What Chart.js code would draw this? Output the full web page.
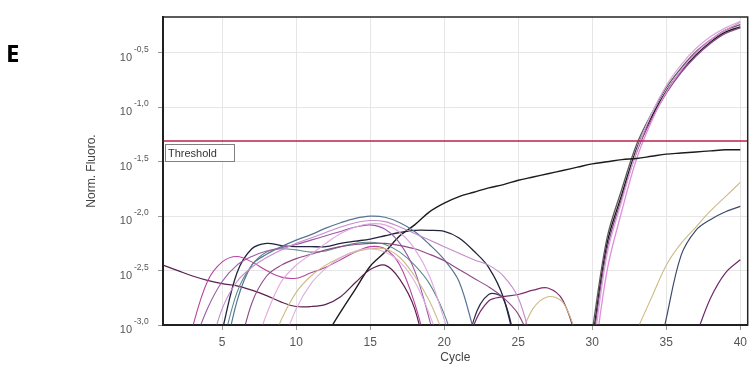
<!DOCTYPE html>
<html>
<head>
<meta charset="utf-8">
<script src="https://cdn.jsdelivr.net/npm/chart.js@4/dist/chart.umd.min.js"></script>
<style>
  html, body { margin: 0; padding: 0; background: #fff; }
  #chart { display: block; }
</style>
</head>
<body>
<canvas id="chart" width="752" height="367"></canvas>
<script>
'use strict';

// qPCR amplification plot, y values are log10(Norm. Fluoro.)

const cycles = [1,2,3,4,5,6,7,8,9,10,11,12,13,14,15,16,17,18,19,20,
                21,22,23,24,25,26,27,28,29,30,31,32,33,34,35,36,37,38,39,40];
const xTicks = [5, 10, 15, 20, 25, 30, 35, 40];
const yTicks = [-3.0, -2.5, -2.0, -1.5, -1.0, -0.5];
const yTickText = ['-3,0', '-2,5', '-2,0', '-1,5', '-1,0', '-0,5'];
const thresholdLog = -1.31;

function gap(n) { return new Array(n).fill(null); }

// amplified samples
const ampBlack  = [...gap(29), -3.15, -2.25, -1.80, -1.38, -1.09, -0.85, -0.67, -0.52, -0.40, -0.31, -0.26];
const ampGrey   = [...gap(29), -3.05, -2.20, -1.75, -1.34, -1.06, -0.82, -0.64, -0.49, -0.38, -0.29, -0.24];
const ampPurple = [...gap(29), -3.20, -2.30, -1.83, -1.41, -1.11, -0.87, -0.68, -0.53, -0.41, -0.32, -0.27];
const ampPink   = [...gap(29), -3.45, -2.50, -1.95, -1.47, -1.13, -0.86, -0.66, -0.50, -0.38, -0.29, -0.22];
const ampLilac  = [...gap(29), -3.30, -2.35, -1.86, -1.40, -1.06, -0.80, -0.61, -0.46, -0.35, -0.27, -0.21];

// slow drifting black curve
const slowBlack = [...gap(11), -3.10, -2.88, -2.67, -2.46, -2.33, -2.18, -2.08, -1.96, -1.88, -1.82,
  -1.78, -1.74, -1.71, -1.67, -1.64, -1.61, -1.58, -1.55, -1.52, -1.50,
  -1.48, -1.47, -1.45, -1.43, -1.42, -1.41, -1.40, -1.39, -1.39];

// late rising curves
const lateTan    = [...gap(32), -3.05, -2.75, -2.45, -2.25, -2.10, -1.95, -1.82, -1.69];
const lateNavy   = [...gap(33), -3.60, -2.94, -2.36, -2.13, -2.03, -1.96, -1.91];
const latePurple = [...gap(36), -3.10, -2.75, -2.52, -2.40];

// small bumps near cycle 25
const bumpPlum = [...gap(20), -3.50, -3.00, -2.78, -2.74, -2.72, -2.68, -2.66, -2.77, -3.15];
const bumpTan  = [...gap(24), -3.15, -2.85, -2.74, -2.79, -3.10];
const bumpNavy = [...gap(20), -3.60, -2.95, -2.72, -2.76, -3.30];

// background noise curves, cycles 1-26
const lowPurple = [-2.45, -2.50, -2.55, -2.59, -2.62, -2.64, -2.68, -2.73, -2.79, -2.83,
  -2.83, -2.81, -2.74, -2.61, -2.49, -2.45, -2.58, -2.85, -3.40];
const flatNavy = [...gap(3), -3.60, -3.05, -2.52, -2.30, -2.25, -2.27, -2.28, -2.28, -2.28, -2.25,
  -2.23, -2.21, -2.18, -2.15, -2.13, -2.13, -2.14, -2.20, -2.32, -2.47, -2.75, -3.30];
const steelBlue = [...gap(4), -3.40, -2.78, -2.45, -2.35, -2.28, -2.22, -2.17, -2.11, -2.06, -2.02,
  -2.00, -2.01, -2.06, -2.14, -2.26, -2.40, -2.60, -3.05];
const magentaWave = [...gap(1), -3.60, -3.02, -2.60, -2.42, -2.37, -2.42, -2.50, -2.56, -2.57, -2.52,
  -2.47, -2.40, -2.33, -2.28, -2.30, -2.45, -2.80, -3.30];
const violet = [...gap(2), -3.20, -2.85, -2.60, -2.45, -2.37, -2.32, -2.29, -2.26, -2.22, -2.18,
  -2.14, -2.10, -2.08, -2.12, -2.25, -2.50, -2.95, -3.50];
const lilacLong = [...gap(3), -3.30, -2.85, -2.60, -2.47, -2.38, -2.31, -2.25, -2.20, -2.15, -2.10,
  -2.06, -2.04, -2.05, -2.10, -2.16, -2.22, -2.28, -2.34, -2.40, -2.45, -2.55, -2.75, -3.20];
const plumSlow = [...gap(5), -3.30, -2.80, -2.55, -2.45, -2.39, -2.35, -2.31, -2.28, -2.26, -2.25,
  -2.25, -2.27, -2.30, -2.35, -2.41, -2.49, -2.57, -2.65, -2.75, -2.90, -3.20];
const lightPink = [...gap(6), -3.30, -2.90, -2.60, -2.45, -2.35, -2.25, -2.16, -2.10, -2.07, -2.08,
  -2.15, -2.30, -2.55, -2.95, -3.40];
const lightPink2 = [...gap(8), -3.20, -2.85, -2.62, -2.48, -2.38, -2.32, -2.30, -2.33, -2.42, -2.60,
  -2.90, -3.30];
const tanLeft = [...gap(7), -3.30, -2.95, -2.70, -2.55, -2.45, -2.38, -2.33, -2.30, -2.30, -2.38,
  -2.55, -2.78, -3.10];
const tealGrey = [...gap(4), -3.20, -2.70, -2.45, -2.33, -2.30, -2.31, -2.33, -2.32, -2.28, -2.25,
  -2.24, -2.26, -2.33, -2.45, -2.62, -2.90, -3.30];

const curves = [
  [lightPink, '#e2a6e0', 1.1], [lightPink2, '#dcb0dc', 1.1], [tanLeft, '#cdbb86', 1.1],
  [lilacLong, '#c68ccc', 1.1], [plumSlow, '#8e4a88', 1.1], [violet, '#9a5aa8', 1.1],
  [magentaWave, '#b8449e', 1.1], [tealGrey, '#5f8a8c', 1.1], [steelBlue, '#557595', 1.2],
  [flatNavy, '#22243e', 1.3], [lowPurple, '#5c2050', 1.2],
  [bumpTan, '#cdbb86', 1.1], [bumpPlum, '#7e2c6c', 1.2], [bumpNavy, '#2c2c4c', 1.2],
  [lateTan, '#cdbb86', 1.1], [lateNavy, '#3c4a6a', 1.2], [latePurple, '#6c2a6a', 1.2],
  [slowBlack, '#1c1c1c', 1.4],
  [ampLilac, '#dba8dc', 1.3], [ampPink, '#e08ede', 1.3], [ampPurple, '#8a4a8a', 1.3],
  [ampGrey, '#5a5a5a', 1.3], [ampBlack, '#151515', 1.4]
];

const datasets = curves.map(function (c) {
  return {
    data: cycles.map(function (x, i) { return { x: x, y: c[0][i] }; })
                .filter(function (p) { return p.y !== null && p.y !== undefined; }),
    borderColor: c[1],
    borderWidth: c[2],
    fill: false
  };
});

const FONT = "'Liberation Sans', Arial, sans-serif";

const decorations = {
  id: 'decorations',
  afterDatasetsDraw: function (chart) {
    const ctx = chart.ctx;
    const a = chart.chartArea;
    const y = chart.scales.y;
    const ty = Math.round(y.getPixelForValue(thresholdLog));

    ctx.save();
    // threshold line
    ctx.strokeStyle = '#b8204a';
    ctx.lineWidth = 1.5;
    ctx.beginPath();
    ctx.moveTo(a.left, ty);
    ctx.lineTo(a.right, ty);
    ctx.stroke();

    // threshold label
    ctx.fillStyle = '#fff';
    ctx.fillRect(a.left + 2.5, ty + 3.5, 69, 17);
    ctx.strokeStyle = '#808080';
    ctx.lineWidth = 1;
    ctx.strokeRect(a.left + 2.5, ty + 3.5, 69, 17);
    ctx.fillStyle = '#333';
    ctx.font = '11px ' + FONT;
    ctx.textBaseline = 'middle';
    ctx.textAlign = 'left';
    ctx.fillText('Threshold', a.left + 5, ty + 12.5);

    // frame
    ctx.strokeStyle = '#262626';
    ctx.lineWidth = 1.5;
    ctx.strokeRect(a.left, a.top, a.right - a.left, a.bottom - a.top);
    ctx.restore();
  },
  afterDraw: function (chart) {
    const ctx = chart.ctx;
    const y = chart.scales.y;
    ctx.save();
    ctx.textBaseline = 'alphabetic';
    yTicks.forEach(function (v, i) {
      const py = y.getPixelForValue(v);
      ctx.fillStyle = '#555';
      ctx.font = '11px ' + FONT;
      ctx.textAlign = 'right';
      ctx.fillText('10', 132, py + 8);
      ctx.font = '8.5px ' + FONT;
      ctx.textAlign = 'left';
      ctx.fillText(yTickText[i], 134, py - 1);
    });

    ctx.fillStyle = '#000';
    ctx.font = "bold 24px 'Open Sans', " + FONT;
    ctx.textAlign = 'left';
    ctx.fillText('E', 6, 62);
    ctx.restore();
  }
};

new Chart(document.getElementById('chart'), {
  type: 'line',
  data: { datasets: datasets },
  plugins: [decorations],
  options: {
    responsive: false,
    animation: false,
    devicePixelRatio: 1,
    layout: { padding: { top: 17, right: 2, left: 0, bottom: 0 } },
    elements: {
      point: { radius: 0 },
      line: { tension: 0.35 }
    },
    plugins: { legend: { display: false }, tooltip: { enabled: false } },
    scales: {
      x: {
        type: 'linear',
        min: 1,
        max: 40.5,
        afterBuildTicks: function (s) { s.ticks = xTicks.map(function (v) { return { value: v }; }); },
        afterFit: function (s) { s.height = 42; },
        ticks: { color: '#555', font: { family: FONT, size: 12 }, padding: 5, maxRotation: 0, autoSkip: false },
        grid: { color: '#e6e6e6', tickLength: 5, tickColor: '#999' },
        border: { color: '#111', width: 2 },
        title: { display: true, text: 'Cycle', color: '#444', font: { family: FONT, size: 12 }, padding: { top: 0, bottom: 2 } }
      },
      y: {
        type: 'linear',
        min: -3,
        max: -0.17,
        afterBuildTicks: function (s) { s.ticks = yTicks.map(function (v) { return { value: v }; }); },
        afterFit: function (s) { s.width = 163; },
        ticks: { display: false },
        grid: { color: '#e6e6e6', tickLength: 5, tickColor: '#999' },
        border: { color: '#111', width: 2 },
        title: { display: true, text: 'Norm. Fluoro.', color: '#444', font: { family: FONT, size: 12 }, padding: { top: 84, bottom: 0 } }
      }
    }
  }
});
</script>
</body>
</html>
